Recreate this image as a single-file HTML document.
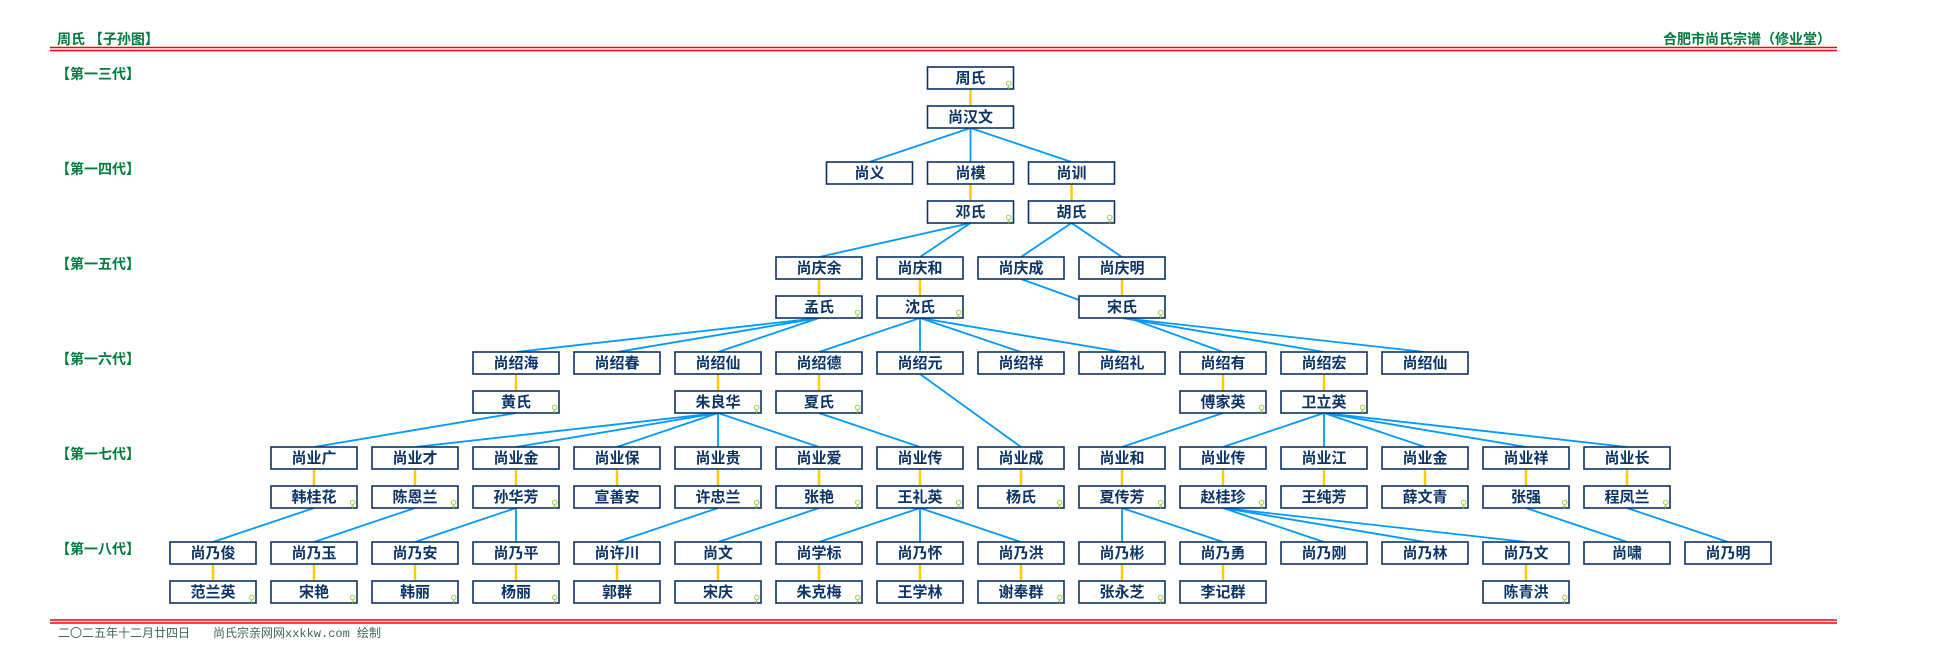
<!DOCTYPE html>
<html><head><meta charset="utf-8"><style>
html,body{margin:0;padding:0;background:#fff;}
svg{display:block;}
.b{fill:#fff;stroke:#0b3366;stroke-width:1.6;}
.t{font-family:"Liberation Sans","WenQuanYi Zen Hei","Noto Sans CJK SC",sans-serif;font-size:15px;font-weight:bold;fill:#0b3366;text-anchor:middle;}
.f{font-family:"DejaVu Sans",sans-serif;font-size:10px;fill:#9c4;}
.g{font-family:"Liberation Sans","WenQuanYi Zen Hei","Noto Sans CJK SC",sans-serif;font-size:14px;font-weight:bold;fill:#007a3d;}
.ft{font-family:"Liberation Mono","WenQuanYi Zen Hei",monospace;font-size:12px;fill:#446655;}
.bl{stroke:#0099ff;stroke-width:1.8;fill:none;}
.go{stroke:#ffcc00;stroke-width:2.5;fill:none;}
</style></head><body>
<svg width="1936" height="670" viewBox="0 0 1936 670" xmlns="http://www.w3.org/2000/svg">
<text class="g" x="57" y="44">周氏 【子孙图】</text>
<text class="g" x="1831" y="44" text-anchor="end">合肥市尚氏宗谱（修业堂）</text>
<line x1="50" y1="47.5" x2="1837" y2="47.5" stroke="#f00" stroke-width="1.5"/>
<line x1="50" y1="50.5" x2="1837" y2="50.5" stroke="#f00" stroke-width="1.5"/>
<line x1="50" y1="620" x2="1837" y2="620" stroke="#f00" stroke-width="1.5"/>
<line x1="50" y1="623" x2="1837" y2="623" stroke="#f00" stroke-width="1.5"/>
<text class="ft" x="58" y="637">二〇二五年十二月廿四日</text>
<text class="ft" x="213" y="637">尚氏宗亲网网xxkkw.com 绘制</text>
<text class="g" x="56" y="79">【第一三代】</text>
<text class="g" x="56" y="174">【第一四代】</text>
<text class="g" x="56" y="269">【第一五代】</text>
<text class="g" x="56" y="364">【第一六代】</text>
<text class="g" x="56" y="459">【第一七代】</text>
<text class="g" x="56" y="554">【第一八代】</text>

<g class="go">
<line x1="970.5" y1="89" x2="970.5" y2="106"/>
<line x1="970.5" y1="184" x2="970.5" y2="201"/>
<line x1="1071.5" y1="184" x2="1071.5" y2="201"/>
<line x1="819" y1="279" x2="819" y2="296"/>
<line x1="920" y1="279" x2="920" y2="296"/>
<line x1="1122" y1="279" x2="1122" y2="296"/>
<line x1="516" y1="374" x2="516" y2="391"/>
<line x1="718" y1="374" x2="718" y2="391"/>
<line x1="819" y1="374" x2="819" y2="391"/>
<line x1="1223" y1="374" x2="1223" y2="391"/>
<line x1="1324" y1="374" x2="1324" y2="391"/>
<line x1="314" y1="469" x2="314" y2="486"/><line x1="415" y1="469" x2="415" y2="486"/>
<line x1="516" y1="469" x2="516" y2="486"/><line x1="617" y1="469" x2="617" y2="486"/>
<line x1="718" y1="469" x2="718" y2="486"/><line x1="819" y1="469" x2="819" y2="486"/>
<line x1="920" y1="469" x2="920" y2="486"/><line x1="1021" y1="469" x2="1021" y2="486"/>
<line x1="1122" y1="469" x2="1122" y2="486"/><line x1="1223" y1="469" x2="1223" y2="486"/>
<line x1="1324" y1="469" x2="1324" y2="486"/><line x1="1425" y1="469" x2="1425" y2="486"/>
<line x1="1526" y1="469" x2="1526" y2="486"/><line x1="1627" y1="469" x2="1627" y2="486"/>
<line x1="213" y1="564" x2="213" y2="581"/><line x1="314" y1="564" x2="314" y2="581"/>
<line x1="415" y1="564" x2="415" y2="581"/><line x1="516" y1="564" x2="516" y2="581"/>
<line x1="617" y1="564" x2="617" y2="581"/><line x1="718" y1="564" x2="718" y2="581"/>
<line x1="819" y1="564" x2="819" y2="581"/><line x1="920" y1="564" x2="920" y2="581"/>
<line x1="1021" y1="564" x2="1021" y2="581"/><line x1="1122" y1="564" x2="1122" y2="581"/>
<line x1="1223" y1="564" x2="1223" y2="581"/><line x1="1526" y1="564" x2="1526" y2="581"/>
</g>
<g class="bl">
<line x1="970.5" y1="128" x2="869.5" y2="162"/><line x1="970.5" y1="128" x2="970.5" y2="162"/><line x1="970.5" y1="128" x2="1071.5" y2="162"/>
<line x1="970.5" y1="223" x2="819" y2="257"/><line x1="970.5" y1="223" x2="920" y2="257"/>
<line x1="1071.5" y1="223" x2="1021" y2="257"/><line x1="1071.5" y1="223" x2="1122" y2="257"/>
<line x1="819" y1="318" x2="516" y2="352"/><line x1="819" y1="318" x2="617" y2="352"/><line x1="819" y1="318" x2="718" y2="352"/>
<line x1="920" y1="318" x2="819" y2="352"/><line x1="920" y1="318" x2="920" y2="352"/><line x1="920" y1="318" x2="1021" y2="352"/><line x1="920" y1="318" x2="1122" y2="352"/>
<line x1="1021" y1="279" x2="1223" y2="352"/>
<line x1="1122" y1="318" x2="1324" y2="352"/><line x1="1122" y1="318" x2="1425" y2="352"/>
<line x1="516" y1="413" x2="314" y2="447"/>
<line x1="718" y1="413" x2="415" y2="447"/><line x1="718" y1="413" x2="516" y2="447"/><line x1="718" y1="413" x2="617" y2="447"/><line x1="718" y1="413" x2="718" y2="447"/><line x1="718" y1="413" x2="819" y2="447"/>
<line x1="819" y1="413" x2="920" y2="447"/>
<line x1="920" y1="374" x2="1021" y2="447"/>
<line x1="1223" y1="413" x2="1122" y2="447"/>
<line x1="1324" y1="413" x2="1223" y2="447"/><line x1="1324" y1="413" x2="1324" y2="447"/><line x1="1324" y1="413" x2="1425" y2="447"/><line x1="1324" y1="413" x2="1526" y2="447"/><line x1="1324" y1="413" x2="1627" y2="447"/>
<line x1="314" y1="508" x2="213" y2="542"/>
<line x1="415" y1="508" x2="314" y2="542"/>
<line x1="516" y1="508" x2="415" y2="542"/><line x1="516" y1="508" x2="516" y2="542"/>
<line x1="718" y1="508" x2="617" y2="542"/>
<line x1="819" y1="508" x2="718" y2="542"/>
<line x1="920" y1="508" x2="819" y2="542"/><line x1="920" y1="508" x2="920" y2="542"/><line x1="920" y1="508" x2="1021" y2="542"/>
<line x1="1122" y1="508" x2="1122" y2="542"/><line x1="1122" y1="508" x2="1223" y2="542"/>
<line x1="1223" y1="508" x2="1324" y2="542"/><line x1="1223" y1="508" x2="1425" y2="542"/><line x1="1223" y1="508" x2="1526" y2="542"/>
<line x1="1526" y1="508" x2="1627" y2="542"/>
<line x1="1627" y1="508" x2="1728" y2="542"/>
</g>

<g>
<rect class="b" x="927.5" y="67" width="86" height="22"/><text class="t" x="970.5" y="83">周氏</text><text class="f" x="1005" y="88">♀</text>
<rect class="b" x="927.5" y="106" width="86" height="22"/><text class="t" x="970.5" y="122">尚汉文</text>

<rect class="b" x="826.5" y="162" width="86" height="22"/><text class="t" x="869.5" y="178">尚义</text>
<rect class="b" x="927.5" y="162" width="86" height="22"/><text class="t" x="970.5" y="178">尚模</text>
<rect class="b" x="1028.5" y="162" width="86" height="22"/><text class="t" x="1071.5" y="178">尚训</text>
<rect class="b" x="927.5" y="201" width="86" height="22"/><text class="t" x="970.5" y="217">邓氏</text><text class="f" x="1005" y="222">♀</text>
<rect class="b" x="1028.5" y="201" width="86" height="22"/><text class="t" x="1071.5" y="217">胡氏</text><text class="f" x="1106" y="222">♀</text>

<rect class="b" x="776" y="257" width="86" height="22"/><text class="t" x="819" y="273">尚庆余</text>
<rect class="b" x="877" y="257" width="86" height="22"/><text class="t" x="920" y="273">尚庆和</text>
<rect class="b" x="978" y="257" width="86" height="22"/><text class="t" x="1021" y="273">尚庆成</text>
<rect class="b" x="1079" y="257" width="86" height="22"/><text class="t" x="1122" y="273">尚庆明</text>
<rect class="b" x="776" y="296" width="86" height="22"/><text class="t" x="819" y="312">孟氏</text><text class="f" x="854" y="317">♀</text>
<rect class="b" x="877" y="296" width="86" height="22"/><text class="t" x="920" y="312">沈氏</text><text class="f" x="955" y="317">♀</text>
<rect class="b" x="1079" y="296" width="86" height="22"/><text class="t" x="1122" y="312">宋氏</text><text class="f" x="1157" y="317">♀</text>

<rect class="b" x="473" y="352" width="86" height="22"/><text class="t" x="516" y="368">尚绍海</text>
<rect class="b" x="574" y="352" width="86" height="22"/><text class="t" x="617" y="368">尚绍春</text>
<rect class="b" x="675" y="352" width="86" height="22"/><text class="t" x="718" y="368">尚绍仙</text>
<rect class="b" x="776" y="352" width="86" height="22"/><text class="t" x="819" y="368">尚绍德</text>
<rect class="b" x="877" y="352" width="86" height="22"/><text class="t" x="920" y="368">尚绍元</text>
<rect class="b" x="978" y="352" width="86" height="22"/><text class="t" x="1021" y="368">尚绍祥</text>
<rect class="b" x="1079" y="352" width="86" height="22"/><text class="t" x="1122" y="368">尚绍礼</text>
<rect class="b" x="1180" y="352" width="86" height="22"/><text class="t" x="1223" y="368">尚绍有</text>
<rect class="b" x="1281" y="352" width="86" height="22"/><text class="t" x="1324" y="368">尚绍宏</text>
<rect class="b" x="1382" y="352" width="86" height="22"/><text class="t" x="1425" y="368">尚绍仙</text>
<rect class="b" x="473" y="391" width="86" height="22"/><text class="t" x="516" y="407">黄氏</text><text class="f" x="551" y="412">♀</text>
<rect class="b" x="675" y="391" width="86" height="22"/><text class="t" x="718" y="407">朱良华</text><text class="f" x="753" y="412">♀</text>
<rect class="b" x="776" y="391" width="86" height="22"/><text class="t" x="819" y="407">夏氏</text><text class="f" x="854" y="412">♀</text>
<rect class="b" x="1180" y="391" width="86" height="22"/><text class="t" x="1223" y="407">傅家英</text><text class="f" x="1258" y="412">♀</text>
<rect class="b" x="1281" y="391" width="86" height="22"/><text class="t" x="1324" y="407">卫立英</text><text class="f" x="1359" y="412">♀</text>

<rect class="b" x="271" y="447" width="86" height="22"/><text class="t" x="314" y="463">尚业广</text>
<rect class="b" x="372" y="447" width="86" height="22"/><text class="t" x="415" y="463">尚业才</text>
<rect class="b" x="473" y="447" width="86" height="22"/><text class="t" x="516" y="463">尚业金</text>
<rect class="b" x="574" y="447" width="86" height="22"/><text class="t" x="617" y="463">尚业保</text>
<rect class="b" x="675" y="447" width="86" height="22"/><text class="t" x="718" y="463">尚业贵</text>
<rect class="b" x="776" y="447" width="86" height="22"/><text class="t" x="819" y="463">尚业爱</text>
<rect class="b" x="877" y="447" width="86" height="22"/><text class="t" x="920" y="463">尚业传</text>
<rect class="b" x="978" y="447" width="86" height="22"/><text class="t" x="1021" y="463">尚业成</text>
<rect class="b" x="1079" y="447" width="86" height="22"/><text class="t" x="1122" y="463">尚业和</text>
<rect class="b" x="1180" y="447" width="86" height="22"/><text class="t" x="1223" y="463">尚业传</text>
<rect class="b" x="1281" y="447" width="86" height="22"/><text class="t" x="1324" y="463">尚业江</text>
<rect class="b" x="1382" y="447" width="86" height="22"/><text class="t" x="1425" y="463">尚业金</text>
<rect class="b" x="1483" y="447" width="86" height="22"/><text class="t" x="1526" y="463">尚业祥</text>
<rect class="b" x="1584" y="447" width="86" height="22"/><text class="t" x="1627" y="463">尚业长</text>

<rect class="b" x="271" y="486" width="86" height="22"/><text class="t" x="314" y="502">韩桂花</text><text class="f" x="349" y="507">♀</text>
<rect class="b" x="372" y="486" width="86" height="22"/><text class="t" x="415" y="502">陈恩兰</text><text class="f" x="450" y="507">♀</text>
<rect class="b" x="473" y="486" width="86" height="22"/><text class="t" x="516" y="502">孙华芳</text><text class="f" x="551" y="507">♀</text>
<rect class="b" x="574" y="486" width="86" height="22"/><text class="t" x="617" y="502">宣善安</text>
<rect class="b" x="675" y="486" width="86" height="22"/><text class="t" x="718" y="502">许忠兰</text><text class="f" x="753" y="507">♀</text>
<rect class="b" x="776" y="486" width="86" height="22"/><text class="t" x="819" y="502">张艳</text><text class="f" x="854" y="507">♀</text>
<rect class="b" x="877" y="486" width="86" height="22"/><text class="t" x="920" y="502">王礼英</text><text class="f" x="955" y="507">♀</text>
<rect class="b" x="978" y="486" width="86" height="22"/><text class="t" x="1021" y="502">杨氏</text><text class="f" x="1056" y="507">♀</text>
<rect class="b" x="1079" y="486" width="86" height="22"/><text class="t" x="1122" y="502">夏传芳</text><text class="f" x="1157" y="507">♀</text>
<rect class="b" x="1180" y="486" width="86" height="22"/><text class="t" x="1223" y="502">赵桂珍</text><text class="f" x="1258" y="507">♀</text>
<rect class="b" x="1281" y="486" width="86" height="22"/><text class="t" x="1324" y="502">王纯芳</text>
<rect class="b" x="1382" y="486" width="86" height="22"/><text class="t" x="1425" y="502">薛文青</text><text class="f" x="1460" y="507">♀</text>
<rect class="b" x="1483" y="486" width="86" height="22"/><text class="t" x="1526" y="502">张强</text><text class="f" x="1561" y="507">♀</text>
<rect class="b" x="1584" y="486" width="86" height="22"/><text class="t" x="1627" y="502">程凤兰</text><text class="f" x="1662" y="507">♀</text>

<rect class="b" x="170" y="542" width="86" height="22"/><text class="t" x="213" y="558">尚乃俊</text>
<rect class="b" x="271" y="542" width="86" height="22"/><text class="t" x="314" y="558">尚乃玉</text>
<rect class="b" x="372" y="542" width="86" height="22"/><text class="t" x="415" y="558">尚乃安</text>
<rect class="b" x="473" y="542" width="86" height="22"/><text class="t" x="516" y="558">尚乃平</text>
<rect class="b" x="574" y="542" width="86" height="22"/><text class="t" x="617" y="558">尚许川</text>
<rect class="b" x="675" y="542" width="86" height="22"/><text class="t" x="718" y="558">尚文</text>
<rect class="b" x="776" y="542" width="86" height="22"/><text class="t" x="819" y="558">尚学标</text>
<rect class="b" x="877" y="542" width="86" height="22"/><text class="t" x="920" y="558">尚乃怀</text>
<rect class="b" x="978" y="542" width="86" height="22"/><text class="t" x="1021" y="558">尚乃洪</text>
<rect class="b" x="1079" y="542" width="86" height="22"/><text class="t" x="1122" y="558">尚乃彬</text>
<rect class="b" x="1180" y="542" width="86" height="22"/><text class="t" x="1223" y="558">尚乃勇</text>
<rect class="b" x="1281" y="542" width="86" height="22"/><text class="t" x="1324" y="558">尚乃刚</text>
<rect class="b" x="1382" y="542" width="86" height="22"/><text class="t" x="1425" y="558">尚乃林</text>
<rect class="b" x="1483" y="542" width="86" height="22"/><text class="t" x="1526" y="558">尚乃文</text>
<rect class="b" x="1584" y="542" width="86" height="22"/><text class="t" x="1627" y="558">尚啸</text>
<rect class="b" x="1685" y="542" width="86" height="22"/><text class="t" x="1728" y="558">尚乃明</text>

<rect class="b" x="170" y="581" width="86" height="22"/><text class="t" x="213" y="597">范兰英</text><text class="f" x="248" y="602">♀</text>
<rect class="b" x="271" y="581" width="86" height="22"/><text class="t" x="314" y="597">宋艳</text><text class="f" x="349" y="602">♀</text>
<rect class="b" x="372" y="581" width="86" height="22"/><text class="t" x="415" y="597">韩丽</text><text class="f" x="450" y="602">♀</text>
<rect class="b" x="473" y="581" width="86" height="22"/><text class="t" x="516" y="597">杨丽</text><text class="f" x="551" y="602">♀</text>
<rect class="b" x="574" y="581" width="86" height="22"/><text class="t" x="617" y="597">郭群</text>
<rect class="b" x="675" y="581" width="86" height="22"/><text class="t" x="718" y="597">宋庆</text><text class="f" x="753" y="602">♀</text>
<rect class="b" x="776" y="581" width="86" height="22"/><text class="t" x="819" y="597">朱克梅</text><text class="f" x="854" y="602">♀</text>
<rect class="b" x="877" y="581" width="86" height="22"/><text class="t" x="920" y="597">王学林</text>
<rect class="b" x="978" y="581" width="86" height="22"/><text class="t" x="1021" y="597">谢奉群</text><text class="f" x="1056" y="602">♀</text>
<rect class="b" x="1079" y="581" width="86" height="22"/><text class="t" x="1122" y="597">张永芝</text><text class="f" x="1157" y="602">♀</text>
<rect class="b" x="1180" y="581" width="86" height="22"/><text class="t" x="1223" y="597">李记群</text>
<rect class="b" x="1483" y="581" width="86" height="22"/><text class="t" x="1526" y="597">陈青洪</text><text class="f" x="1561" y="602">♀</text>
</g>
</svg>
</body></html>
